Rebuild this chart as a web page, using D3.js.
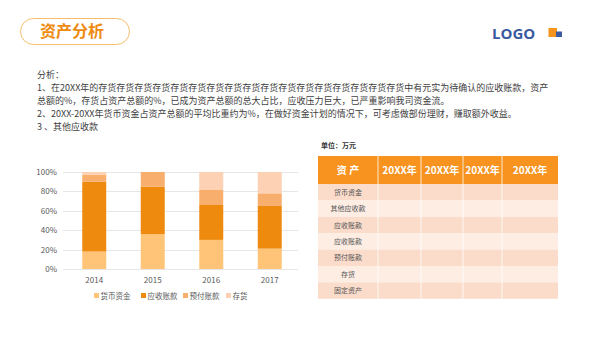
<!DOCTYPE html>
<html lang="zh">
  <head>
    <meta charset="UTF-8" />
    <script src="https://d3js.org/d3.v7.min.js"></script>
    <style>
      body { margin: 0; background: #fff; }
      text { font-family: "Noto Sans CJK SC", "Noto Sans", sans-serif; }
    </style>
  </head>
  <body>
    <script>
      var width = 600,
        height = 338;

      // données du graphique
      var years = ["2014", "2015", "2016", "2017"];
      var seriesNames = ["货币资金", "应收账款", "预付账款", "存货"];
      var huobi = [18, 36, 30, 21];
      var yingshou = [72, 49, 36, 44];
      var yufu = [7, 15, 16, 13];
      var cunhuo = [3, 0, 18, 22];
      var yTicks = [0, 20, 40, 60, 80, 100];
      var colors = ["#FFC477", "#EE8A0E", "#F8AE6C", "#FDD1B3"];

      // tableau
      var tableHeader = ["资  产", "20XX年", "20XX年", "20XX年", "20XX年"];
      var tableRows = ["货币资金", "其他应收款", "应收账款", "应收账款", "预付账款", "存货", "固定资产"];

      var paragraph = [
        "分析：",
        "1、在20XX年的存货存货存货存货存货存货存货存货存货存货存货存货存货存货存货存货存货中有元实为待确认的应收账款，资产",
        "总额的%，存货占资产总额的%，已成为资产总额的总大占比，应收压力巨大，已严重影响我司资金流。",
        "2、20XX-20XX年货币资金占资产总额的平均比重约为%，在做好资金计划的情况下，可考虑做部份理财，赚取额外收益。",
        "3 、其他应收款"
      ];

      var svg = d3
        .select("body")
        .append("svg")
        .attr("width", width)
        .attr("height", height);

      // titre
      svg
        .append("rect")
        .attr("x", 20.5)
        .attr("y", 18.5)
        .attr("width", 109)
        .attr("height", 26)
        .attr("rx", 13)
        .attr("fill", "#fff")
        .attr("stroke", "#F6BE6A")
        .attr("stroke-width", 1);
      svg
        .append("text")
        .attr("x", 72)
        .attr("y", 37)
        .attr("text-anchor", "middle")
        .attr("font-size", 16)
        .attr("font-weight", "bold")
        .attr("fill", "#EE8A0E")
        .text("资产分析");

      // logo
      svg
        .append("text")
        .attr("x", 492)
        .attr("y", 38.5)
        .attr("font-size", 15)
        .attr("font-weight", "bold")
        .attr("fill", "#3A5BA0")
        .style("font-family", "'Open Sans', sans-serif")
        .text("LOGO");
      svg.append("rect").attr("x", 548.5).attr("y", 28).attr("width", 8.5).attr("height", 9).attr("fill", "#F7941D");
      svg.append("rect").attr("x", 556).attr("y", 31.5).attr("width", 6).attr("height", 5.5).attr("fill", "#3A5BA0");

      // texte d'analyse
      svg
        .append("g")
        .selectAll("text")
        .data(paragraph)
        .enter()
        .append("text")
        .attr("x", 37)
        .attr("y", function (d, i) {
          return 77.5 + i * 13.2;
        })
        .attr("font-size", 9)
        .attr("fill", "#404040")
        .text(function (d) {
          return d;
        });

      // graphique empilé
      var x = d3.scaleBand().domain(years).range([65, 299]).paddingInner(0.59).paddingOuter(0.295);
      var y = d3.scaleLinear().domain([0, 100]).range([269, 172]);

      var data = years.map(function (yr, i) {
        return { year: yr, 货币资金: huobi[i], 应收账款: yingshou[i], 预付账款: yufu[i], 存货: cunhuo[i] };
      });
      var stacked = d3.stack().keys(seriesNames)(data);

      var chart = svg.append("g");

      chart
        .append("g")
        .selectAll("line")
        .data(yTicks)
        .enter()
        .append("line")
        .attr("x1", 63)
        .attr("x2", 298)
        .attr("y1", function (d) {
          return Math.round(y(d)) + 0.5;
        })
        .attr("y2", function (d) {
          return Math.round(y(d)) + 0.5;
        })
        .attr("stroke", "#E6E6E6");

      chart
        .append("g")
        .selectAll("text")
        .data(yTicks)
        .enter()
        .append("text")
        .attr("x", 57)
        .attr("y", function (d) {
          return y(d) + 3;
        })
        .attr("text-anchor", "end")
        .attr("font-size", 8)
        .attr("fill", "#595959")
        .text(function (d) {
          return d + "%";
        });

      chart
        .selectAll("g.serie")
        .data(stacked)
        .enter()
        .append("g")
        .attr("class", "serie")
        .attr("fill", function (d, i) {
          return colors[i];
        })
        .selectAll("rect")
        .data(function (d) {
          return d;
        })
        .enter()
        .append("rect")
        .attr("x", function (d) {
          return x(d.data.year);
        })
        .attr("y", function (d) {
          return y(d[1]);
        })
        .attr("width", x.bandwidth())
        .attr("height", function (d) {
          return y(d[0]) - y(d[1]);
        });

      chart
        .append("g")
        .selectAll("text")
        .data(years)
        .enter()
        .append("text")
        .attr("x", function (d) {
          return x(d) + x.bandwidth() / 2;
        })
        .attr("y", 283)
        .attr("text-anchor", "middle")
        .attr("font-size", 8)
        .attr("fill", "#595959")
        .text(function (d) {
          return d;
        });

      // légende
      var legendX = [94, 141, 183, 226];
      var legend = chart
        .append("g")
        .selectAll("g")
        .data(seriesNames)
        .enter()
        .append("g")
        .attr("transform", function (d, i) {
          return "translate(" + legendX[i] + ",296)";
        });
      legend
        .append("rect")
        .attr("x", 0)
        .attr("y", -3)
        .attr("width", 5)
        .attr("height", 5)
        .attr("fill", function (d, i) {
          return colors[i];
        });
      legend
        .append("text")
        .attr("x", 6.5)
        .attr("y", 2.5)
        .attr("font-size", 7.5)
        .attr("fill", "#595959")
        .text(function (d) {
          return d;
        });

      // tableau
      var colEdges = [318, 378, 421, 463, 502, 558];
      var headTop = 156,
        headH = 28,
        rowH = 16.4;

      svg
        .append("text")
        .attr("x", 321)
        .attr("y", 148)
        .attr("font-size", 7)
        .attr("font-weight", "bold")
        .attr("fill", "#333")
        .text("单位：万元");

      var table = svg.append("g");
      table
        .append("rect")
        .attr("x", colEdges[0])
        .attr("y", headTop)
        .attr("width", colEdges[5] - colEdges[0])
        .attr("height", headH)
        .attr("fill", "#F7931E");

      table
        .selectAll("rect.row")
        .data(tableRows)
        .enter()
        .append("rect")
        .attr("class", "row")
        .attr("x", colEdges[0])
        .attr("y", function (d, i) {
          return headTop + headH + i * rowH;
        })
        .attr("width", colEdges[5] - colEdges[0])
        .attr("height", rowH)
        .attr("fill", function (d, i) {
          return i % 2 === 0 ? "#FBDCCB" : "#FDEDE3";
        });

      // lignes blanches
      table
        .selectAll("line.v")
        .data(colEdges.slice(1, 5))
        .enter()
        .append("line")
        .attr("class", "v")
        .attr("x1", function (d) {
          return d;
        })
        .attr("x2", function (d) {
          return d;
        })
        .attr("y1", headTop)
        .attr("y2", headTop + headH + rowH * tableRows.length)
        .attr("stroke", "#fff")
        .attr("stroke-width", 0.8);

      table
        .selectAll("text.head")
        .data(tableHeader)
        .enter()
        .append("text")
        .attr("class", "head")
        .attr("x", function (d, i) {
          return (colEdges[i] + colEdges[i + 1]) / 2;
        })
        .attr("y", headTop + headH / 2 + 3.5)
        .attr("text-anchor", "middle")
        .attr("font-size", 10)
        .attr("font-weight", "bold")
        .attr("fill", "#fff")
        .text(function (d) {
          return d;
        });

      table
        .selectAll("text.rowlab")
        .data(tableRows)
        .enter()
        .append("text")
        .attr("class", "rowlab")
        .attr("x", (colEdges[0] + colEdges[1]) / 2)
        .attr("y", function (d, i) {
          return headTop + headH + i * rowH + rowH / 2 + 2.5;
        })
        .attr("text-anchor", "middle")
        .attr("font-size", 7)
        .attr("fill", "#555")
        .text(function (d) {
          return d;
        });
    </script>
  </body>
</html>
